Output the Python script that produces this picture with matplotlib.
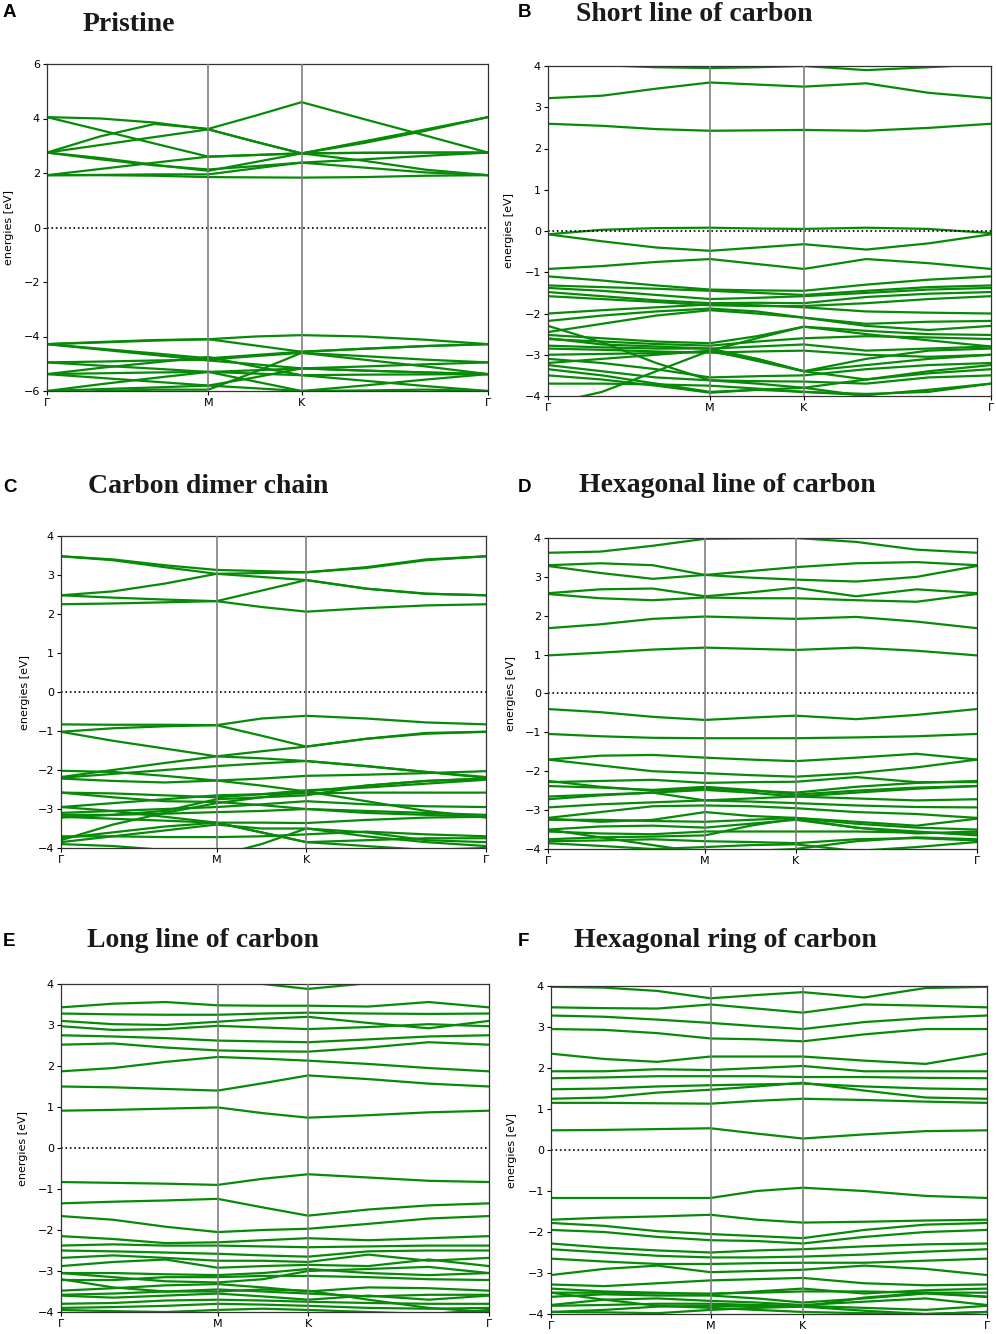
import numpy as np
import matplotlib
matplotlib.use("Agg")
import matplotlib.pyplot as plt

# k-path: Gamma -> M -> K -> Gamma (hexagonal cell), 9 sample points per band
k_ticks = [0.0, 1.0, 1.577, 2.732]
k_labels = ["Γ", "M", "K", "Γ"]
k_pts = [0.0, 0.333, 0.667, 1.0, 1.289, 1.577, 1.962, 2.347, 2.732]

# A: Pristine
bands_a = [
    [1.92, 1.92, 1.90, 1.85, 1.84, 1.83, 1.85, 1.90, 1.92],
    [1.92, 1.93, 1.95, 1.95, 2.17, 2.38, 2.20, 2.02, 1.92],
    [1.92, 2.15, 2.38, 2.60, 2.66, 2.72, 2.45, 2.12, 1.92],
    [2.75, 2.55, 2.30, 2.08, 2.40, 2.72, 2.74, 2.75, 2.75],
    [2.75, 2.50, 2.28, 2.13, 2.25, 2.38, 2.50, 2.63, 2.75],
    [2.75, 3.03, 3.32, 3.60, 3.15, 2.72, 3.16, 3.60, 4.05],
    [2.75, 3.35, 3.80, 3.62, 4.10, 4.60, 3.98, 3.37, 2.75],
    [4.05, 4.00, 3.85, 3.60, 3.15, 2.72, 2.74, 2.75, 2.75],
    [4.05, 3.57, 3.08, 2.60, 2.66, 2.72, 3.10, 3.55, 4.05],
    [-4.28, -4.20, -4.13, -4.10, -4.00, -3.95, -4.00, -4.12, -4.28],
    [-4.28, -4.22, -4.15, -4.10, -4.33, -4.56, -4.45, -4.35, -4.28],
    [-4.28, -4.45, -4.62, -4.80, -4.68, -4.56, -4.45, -4.35, -4.28],
    [-4.28, -4.48, -4.68, -4.88, -5.02, -5.17, -5.10, -5.02, -4.95],
    [-4.95, -4.92, -4.88, -4.85, -4.72, -4.60, -4.72, -4.85, -4.95],
    [-4.95, -5.07, -5.18, -5.30, -5.24, -5.17, -5.25, -5.32, -5.38],
    [-5.38, -5.15, -4.95, -4.75, -5.10, -5.42, -5.40, -5.39, -5.38],
    [-5.38, -5.35, -5.32, -5.30, -5.36, -5.42, -5.62, -5.82, -6.00],
    [-5.38, -5.52, -5.66, -5.80, -5.50, -5.17, -5.25, -5.32, -5.38],
    [-6.00, -5.75, -5.52, -5.30, -5.65, -6.00, -5.80, -5.58, -5.38],
    [-6.00, -5.93, -5.87, -5.80, -5.90, -6.00, -5.98, -5.95, -6.00],
    [-6.10, -6.00, -5.95, -5.95, -5.30, -4.60, -4.85, -5.10, -5.38],
]

# B: Short line of carbon
bands_b = [
    [4.05, 4.02, 3.97, 3.95, 3.97, 4.00, 3.90, 3.97, 4.05],
    [3.22, 3.28, 3.45, 3.60, 3.55, 3.50, 3.58, 3.35, 3.22],
    [2.60, 2.55, 2.47, 2.43, 2.44, 2.45, 2.43, 2.50, 2.60],
    [-0.08, 0.03, 0.07, 0.08, 0.06, 0.05, 0.08, 0.05, -0.05],
    [-0.08, -0.25, -0.40, -0.48, -0.40, -0.32, -0.45, -0.30, -0.08],
    [-0.92, -0.85, -0.75, -0.68, -0.80, -0.92, -0.68, -0.78, -0.92],
    [-1.10, -1.20, -1.32, -1.42, -1.44, -1.45, -1.30, -1.18, -1.10],
    [-1.32, -1.36, -1.40, -1.45, -1.50, -1.55, -1.45, -1.36, -1.32],
    [-1.38, -1.45, -1.55, -1.65, -1.62, -1.58, -1.50, -1.42, -1.38],
    [-1.48, -1.58, -1.68, -1.75, -1.74, -1.75, -1.60, -1.52, -1.48],
    [-1.58, -1.65, -1.72, -1.80, -1.82, -1.82, -1.75, -1.65, -1.58],
    [-2.00, -1.92, -1.85, -1.78, -1.80, -1.85, -1.95, -1.98, -2.00],
    [-2.18, -2.05, -1.95, -1.88, -1.95, -2.10, -2.25, -2.20, -2.18],
    [-2.45, -2.25, -2.05, -1.92, -2.00, -2.10, -2.30, -2.40, -2.30],
    [-2.52, -2.60, -2.68, -2.72, -2.55, -2.32, -2.42, -2.50, -2.52],
    [-2.62, -2.68, -2.74, -2.78, -2.68, -2.60, -2.55, -2.58, -2.62],
    [-2.78, -2.82, -2.85, -2.85, -2.80, -2.75, -2.90, -2.85, -2.80],
    [-2.85, -2.88, -2.92, -2.95, -2.92, -2.90, -3.00, -3.05, -3.00],
    [-3.00, -2.98, -2.96, -2.93, -3.10, -3.40, -3.25, -3.10, -3.00],
    [-3.10, -3.20, -3.35, -3.55, -3.52, -3.50, -3.35, -3.25, -3.20],
    [-3.20, -3.10, -3.00, -2.90, -3.15, -3.40, -3.60, -3.40, -3.25],
    [-3.25, -3.40, -3.55, -3.62, -3.64, -3.65, -3.70, -3.55, -3.50],
    [-3.35, -3.50, -3.70, -3.90, -3.85, -3.80, -3.60, -3.45, -3.35],
    [-3.50, -3.60, -3.75, -3.92, -3.85, -3.90, -3.98, -3.85, -3.70],
    [-3.70, -3.70, -3.72, -3.75, -3.82, -3.90, -3.95, -3.90, -3.70],
    [-4.20, -3.90, -3.40, -2.90, -2.60, -2.32, -2.50, -2.65, -2.80],
    [-2.30, -2.70, -3.20, -3.62, -3.70, -3.80, -4.00, -4.20, -4.20],
    [-2.60, -2.75, -2.80, -2.85, -3.10, -3.40, -3.10, -2.90, -2.85],
]

# C: Carbon dimer chain
bands_c = [
    [3.48, 3.40, 3.25, 3.13, 3.10, 3.07, 3.18, 3.38, 3.48],
    [3.48, 3.38, 3.20, 3.03, 2.95, 2.87, 2.65, 2.52, 2.48],
    [2.48, 2.58, 2.78, 3.03, 3.05, 3.07, 3.20, 3.40, 3.48],
    [2.48, 2.42, 2.37, 2.33, 2.60, 2.87, 2.65, 2.52, 2.48],
    [2.25, 2.27, 2.30, 2.33, 2.18, 2.06, 2.15, 2.22, 2.25],
    [-0.83, -0.84, -0.84, -0.85, -0.68, -0.61, -0.68, -0.78, -0.83],
    [-1.02, -0.93, -0.88, -0.85, -1.12, -1.40, -1.20, -1.05, -1.02],
    [-1.02, -1.25, -1.45, -1.65, -1.70, -1.77, -1.90, -2.05, -2.18],
    [-2.18, -2.00, -1.82, -1.65, -1.52, -1.40, -1.20, -1.07, -1.02],
    [-2.20, -2.10, -2.00, -1.90, -1.83, -1.77, -1.90, -2.05, -2.20],
    [-2.02, -2.05, -2.15, -2.27, -2.22, -2.15, -2.12, -2.08, -2.03],
    [-2.22, -2.28, -2.32, -2.27, -2.40, -2.55, -2.40, -2.28, -2.22],
    [-2.58, -2.60, -2.65, -2.70, -2.62, -2.52, -2.45, -2.35, -2.25],
    [-2.95, -2.85, -2.75, -2.65, -2.62, -2.60, -2.58, -2.58, -2.58],
    [-2.58, -2.70, -2.80, -2.82, -2.90, -3.00, -3.05, -3.10, -3.15],
    [-3.10, -3.05, -3.00, -2.95, -2.88, -2.80, -2.88, -2.93, -2.95],
    [-3.15, -3.15, -3.12, -3.08, -3.05, -3.00, -3.10, -3.15, -3.20],
    [-3.20, -3.25, -3.30, -3.35, -3.35, -3.36, -3.28, -3.22, -3.20],
    [-3.22, -3.15, -3.05, -2.75, -2.70, -2.65, -2.40, -2.28, -2.22],
    [-3.80, -3.40, -3.10, -2.85, -2.70, -2.55, -2.80, -3.05, -3.22],
    [-3.70, -3.70, -3.72, -3.72, -3.70, -3.65, -3.58, -3.65, -3.70],
    [-3.75, -3.60, -3.45, -3.35, -3.60, -3.85, -3.80, -3.75, -3.75],
    [-3.85, -3.70, -3.55, -3.40, -3.50, -3.50, -3.70, -3.85, -3.95],
    [-3.90, -3.95, -4.05, -4.20, -3.90, -3.50, -3.60, -3.80, -3.85],
    [-2.95, -3.05, -3.20, -3.35, -3.60, -3.85, -3.95, -4.05, -4.00],
]

# D: Hexagonal line of carbon
bands_d = [
    [3.62, 3.65, 3.80, 3.98, 3.99, 4.00, 3.90, 3.70, 3.62],
    [3.30, 3.35, 3.30, 3.05, 3.15, 3.25, 3.35, 3.38, 3.30],
    [3.28, 3.10, 2.95, 3.05, 2.98, 2.93, 2.88, 3.00, 3.28],
    [2.58, 2.68, 2.70, 2.50, 2.60, 2.72, 2.50, 2.68, 2.58],
    [2.56, 2.45, 2.40, 2.47, 2.45, 2.45, 2.40, 2.36, 2.56],
    [1.68, 1.78, 1.92, 1.98, 1.95, 1.92, 1.97, 1.85, 1.68],
    [0.98, 1.05, 1.13, 1.18, 1.15, 1.12, 1.18, 1.10, 0.98],
    [-0.40, -0.48, -0.60, -0.68, -0.62, -0.57, -0.66, -0.55, -0.40],
    [-1.04, -1.10, -1.14, -1.15, -1.15, -1.15, -1.13, -1.10, -1.04],
    [-1.70, -1.60, -1.58, -1.65, -1.70, -1.74, -1.65, -1.55, -1.70],
    [-1.70, -1.85, -2.00, -2.05, -2.10, -2.14, -2.05, -1.90, -1.70],
    [-2.28, -2.25, -2.22, -2.30, -2.28, -2.27, -2.15, -2.28, -2.28],
    [-2.25, -2.40, -2.50, -2.45, -2.50, -2.55, -2.40, -2.30, -2.25],
    [-2.38, -2.42, -2.48, -2.40, -2.48, -2.60, -2.50, -2.42, -2.38],
    [-2.65, -2.60, -2.55, -2.48, -2.55, -2.65, -2.55, -2.45, -2.38],
    [-2.72, -2.62, -2.55, -2.75, -2.70, -2.65, -2.70, -2.75, -2.72],
    [-2.93, -2.85, -2.80, -2.75, -2.78, -2.82, -2.88, -2.92, -2.93],
    [-3.20, -3.05, -2.90, -2.88, -2.90, -2.95, -3.05, -3.10, -3.20],
    [-3.22, -3.30, -3.25, -3.05, -3.15, -3.20, -3.30, -3.40, -3.22],
    [-3.25, -3.25, -3.28, -3.30, -3.25, -3.20, -3.35, -3.45, -3.50],
    [-3.50, -3.42, -3.40, -3.45, -3.35, -3.25, -3.45, -3.60, -3.55],
    [-3.55, -3.60, -3.62, -3.55, -3.55, -3.55, -3.55, -3.58, -3.60],
    [-3.75, -3.70, -3.68, -3.65, -3.40, -3.22, -3.45, -3.55, -3.65],
    [-3.80, -3.78, -3.75, -3.80, -3.82, -3.85, -3.75, -3.72, -3.78],
    [-3.85, -3.92, -4.00, -3.95, -3.90, -3.88, -4.05, -3.95, -3.82],
    [-3.50, -3.70, -3.90, -4.10, -4.05, -4.00, -3.80, -3.70, -3.75],
]

# E: Long line of carbon
bands_e = [
    [4.20, 4.15, 4.10, 4.05, 4.00, 3.88, 4.02, 4.10, 4.15],
    [3.43, 3.52, 3.56, 3.48, 3.47, 3.47, 3.45, 3.56, 3.43],
    [3.28, 3.26, 3.25, 3.25, 3.28, 3.30, 3.28, 3.27, 3.28],
    [3.10, 3.02, 3.00, 3.08, 3.15, 3.20, 3.05, 2.92, 3.10],
    [2.97, 2.88, 2.90, 2.98, 2.94, 2.90, 2.95, 3.02, 2.97],
    [2.75, 2.72, 2.68, 2.62, 2.60, 2.58, 2.65, 2.72, 2.75],
    [2.52, 2.55, 2.45, 2.38, 2.36, 2.35, 2.45, 2.58, 2.52],
    [1.87, 1.95, 2.10, 2.22, 2.18, 2.13, 2.05, 1.95, 1.87],
    [1.50, 1.48, 1.44, 1.40, 1.58, 1.77, 1.68, 1.57, 1.50],
    [0.91, 0.93, 0.96, 0.99, 0.85, 0.74, 0.80, 0.87, 0.91],
    [-0.83, -0.85, -0.87, -0.90, -0.75, -0.64, -0.72, -0.80, -0.83],
    [-1.35, -1.31, -1.28, -1.24, -1.45, -1.65, -1.50, -1.40, -1.35],
    [-1.66, -1.75, -1.92, -2.05, -2.00, -1.97, -1.85, -1.72, -1.66],
    [-2.15, -2.22, -2.32, -2.30, -2.25, -2.20, -2.25, -2.20, -2.15],
    [-2.38, -2.35, -2.38, -2.38, -2.40, -2.42, -2.40, -2.38, -2.38],
    [-2.50, -2.52, -2.55, -2.58, -2.62, -2.65, -2.52, -2.50, -2.50],
    [-2.68, -2.62, -2.68, -2.75, -2.75, -2.78, -2.60, -2.75, -2.68],
    [-2.88, -2.78, -2.72, -2.92, -2.88, -2.85, -2.88, -2.72, -2.88],
    [-3.05, -3.05, -3.08, -3.10, -3.05, -2.95, -3.05, -3.10, -3.05],
    [-3.22, -3.22, -3.15, -3.15, -3.12, -3.12, -3.15, -3.20, -3.22],
    [-3.05, -3.15, -3.25, -3.28, -3.20, -3.00, -2.95, -2.90, -3.05],
    [-3.48, -3.42, -3.35, -3.32, -3.40, -3.50, -3.40, -3.42, -3.48],
    [-3.58, -3.55, -3.50, -3.45, -3.50, -3.55, -3.62, -3.58, -3.58],
    [-3.60, -3.65, -3.60, -3.55, -3.62, -3.70, -3.60, -3.70, -3.60],
    [-3.80, -3.78, -3.72, -3.70, -3.72, -3.75, -3.78, -3.80, -3.80],
    [-3.90, -3.88, -3.85, -3.80, -3.82, -3.85, -3.90, -3.92, -3.90],
    [-3.95, -3.98, -4.00, -3.95, -3.92, -3.95, -4.00, -4.05, -3.95],
    [-3.20, -3.40, -3.50, -3.50, -3.45, -3.48, -3.70, -3.90, -4.00],
]

# F: Hexagonal ring of carbon
bands_f = [
    [3.98, 3.96, 3.88, 3.70, 3.78, 3.85, 3.72, 3.95, 3.98],
    [3.48, 3.46, 3.45, 3.55, 3.45, 3.35, 3.55, 3.52, 3.48],
    [3.28, 3.25, 3.18, 3.10, 3.02, 2.95, 3.12, 3.22, 3.28],
    [2.95, 2.93, 2.85, 2.72, 2.70, 2.65, 2.82, 2.95, 2.95],
    [2.35, 2.22, 2.15, 2.28, 2.28, 2.28, 2.18, 2.10, 2.35],
    [1.92, 1.92, 1.97, 1.95, 2.00, 2.05, 1.92, 1.92, 1.92],
    [1.75, 1.77, 1.80, 1.80, 1.80, 1.78, 1.78, 1.76, 1.75],
    [1.48, 1.50, 1.55, 1.58, 1.60, 1.62, 1.55, 1.50, 1.48],
    [1.25, 1.28, 1.40, 1.47, 1.55, 1.64, 1.45, 1.28, 1.25],
    [1.15, 1.15, 1.14, 1.13, 1.20, 1.25, 1.22, 1.18, 1.15],
    [0.48, 0.49, 0.51, 0.53, 0.40, 0.28, 0.38, 0.46, 0.48],
    [-1.17, -1.17, -1.17, -1.17, -1.00, -0.92, -1.00, -1.12, -1.17],
    [-1.70, -1.65, -1.62, -1.58, -1.70, -1.77, -1.75, -1.72, -1.70],
    [-1.78, -1.85, -1.98, -2.05, -2.10, -2.15, -1.95, -1.82, -1.78],
    [-1.95, -2.00, -2.12, -2.20, -2.22, -2.28, -2.12, -2.00, -1.95],
    [-2.28, -2.38, -2.45, -2.50, -2.45, -2.42, -2.35, -2.30, -2.28],
    [-2.42, -2.50, -2.58, -2.62, -2.62, -2.60, -2.55, -2.48, -2.42],
    [-2.65, -2.72, -2.78, -2.78, -2.76, -2.75, -2.75, -2.70, -2.65],
    [-3.05, -2.90, -2.82, -2.98, -2.95, -2.92, -2.82, -2.90, -3.05],
    [-3.28, -3.32, -3.25, -3.18, -3.15, -3.12, -3.25, -3.30, -3.28],
    [-3.38, -3.45, -3.48, -3.52, -3.45, -3.38, -3.50, -3.42, -3.38],
    [-3.48, -3.48, -3.50, -3.50, -3.48, -3.45, -3.45, -3.48, -3.48],
    [-3.58, -3.52, -3.55, -3.55, -3.62, -3.72, -3.62, -3.50, -3.58],
    [-3.78, -3.65, -3.62, -3.68, -3.72, -3.78, -3.70, -3.62, -3.78],
    [-3.80, -3.78, -3.75, -3.75, -3.78, -3.80, -3.85, -3.90, -3.80],
    [-3.95, -3.90, -3.82, -3.80, -3.82, -3.82, -3.92, -4.00, -3.95],
    [-3.95, -3.96, -3.98, -3.90, -3.85, -3.82, -3.60, -3.48, -3.58],
    [-3.48, -3.65, -3.80, -3.85, -3.90, -3.95, -3.98, -4.00, -3.95],
]

letters = ["A", "B", "C", "D", "E", "F"]
titles = ["Pristine", "Short line of carbon", "Carbon dimer chain",
          "Hexagonal line of carbon", "Long line of carbon", "Hexagonal ring of carbon"]
all_bands = [bands_a, bands_b, bands_c, bands_d, bands_e, bands_f]
ylims = [(-6, 6), (-4, 4), (-4, 4), (-4, 4), (-4, 4), (-4, 4)]

W, H = 996, 1334
# axes boxes in pixels: left, right, top, bottom
boxes = [(47, 488, 64, 391), (548, 991, 66, 396),
         (61, 486, 536, 848), (548, 977, 538, 849),
         (61, 489, 984, 1312), (551, 987, 986, 1314)]
# baselines (pixels from top)
letter_pos = [(3, 17), (518, 17), (3, 492), (518, 492), (3, 946), (518, 946)]
title_pos = [(83, 31), (576, 21), (88, 493), (579, 492), (87, 947), (574, 947)]
ylabel_x = [14, 514, 30, 516, 28, 517]  # right edge of the rotated label

fig = plt.figure(figsize=(W / 100, H / 100), dpi=100)

for i in range(6):
    l, r, t, b = boxes[i]
    ax = fig.add_axes([l / W, 1 - b / H, (r - l) / W, (b - t) / H])
    for band in all_bands[i]:
        ax.plot(k_pts, band, color="#078a07", lw=1.6)
    for kx in k_ticks[1:3]:
        ax.axvline(kx, color="#7f7f7f", lw=1.2, zorder=3)
    ax.axhline(0, color="black", ls=":", lw=1.2)
    ax.set_xlim(0, k_ticks[-1])
    ax.set_ylim(*ylims[i])
    if ylims[i][1] == 6:
        ax.set_yticks(np.arange(-6, 7, 2))
    else:
        ax.set_yticks(np.arange(-4, 5, 1))
    ax.set_xticks(k_ticks)
    ax.set_xticklabels(k_labels)
    ax.tick_params(labelsize=8, length=3, width=0.8, pad=2)
    for sp in ax.spines.values():
        sp.set_linewidth(0.9)
        sp.set_color("#333333")
    ax.set_ylabel("energies [eV]", fontsize=8)
    ax.yaxis.set_label_coords((ylabel_x[i] - l) / (r - l), 0.5)

    lx, ly = letter_pos[i]
    fig.text(lx / W, 1 - ly / H, letters[i], fontsize=13.5, fontweight="bold",
             family="Liberation Sans", ha="left", va="baseline")
    tx, ty = title_pos[i]
    fig.text(tx / W, 1 - ty / H, titles[i], fontsize=20, fontweight="bold",
             family="Liberation Serif", ha="left", va="baseline", color="#1a1a1a")

fig.savefig("out.png", dpi=100)
